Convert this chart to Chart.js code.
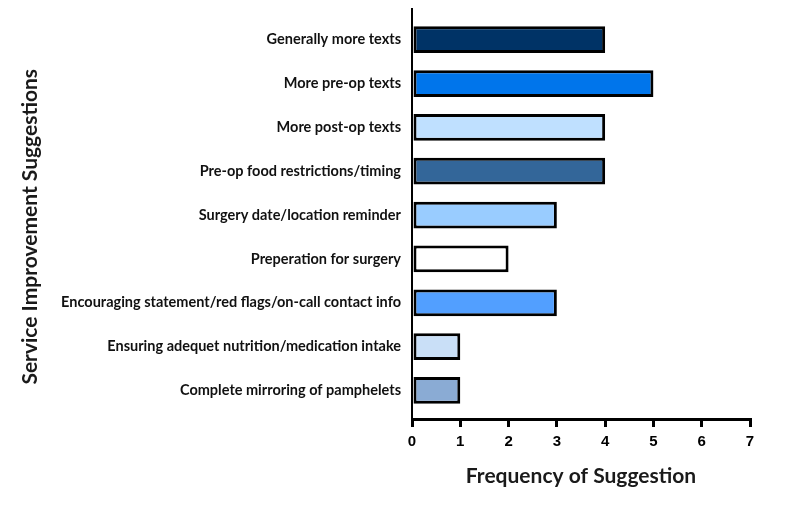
<!DOCTYPE html>
<html>
<head>
<meta charset="utf-8">
<script src="https://cdn.jsdelivr.net/npm/chart.js@4.4.1/dist/chart.umd.min.js"></script>
<style>
  html, body { margin: 0; padding: 0; background: #ffffff; }
  #wrap { width: 800px; height: 505px; }
</style>
</head>
<body>
<div id="wrap"><canvas id="c" width="800" height="505"></canvas></div>
<script>
const categories = [
  "Generally more texts",
  "More pre-op texts",
  "More post-op texts",
  "Pre-op food restrictions/timing",
  "Surgery date/location reminder",
  "Preperation for surgery",
  "Encouraging statement/red flags/on-call contact info",
  "Ensuring adequet nutrition/medication intake",
  "Complete mirroring of pamphelets"
];
const frequencies = [4, 5, 4, 4, 3, 2, 3, 1, 1];
const barColors = ["#003366", "#0075EB", "#BFE0FF", "#336699", "#99CCFF", "#FFFFFF", "#529FFF", "#C9DFF7", "#8AABD4"];
const xTicks = [0, 1, 2, 3, 4, 5, 6, 7];
const xTitle = "Frequency of Suggestion";
const yTitle = "Service Improvement Suggestions";

const points = frequencies.map((v, i) => ({ x: v, y: i }));

new Chart(document.getElementById('c'), {
  type: 'bar',
  data: {
    datasets: [{
      data: points,
      backgroundColor: barColors,
      borderColor: '#000000',
      borderWidth: 3,
      borderSkipped: false,
      barPercentage: 0.61,
      categoryPercentage: 1.0
    }]
  },
  options: {
    indexAxis: 'y',
    responsive: false,
    animation: false,
    devicePixelRatio: 1,
    layout: { padding: { left: 0, right: 50, top: 9, bottom: 0 } },
    plugins: { legend: { display: false }, tooltip: { enabled: false } },
    scales: {
      x: {
        type: 'linear',
        min: xTicks[0],
        max: xTicks[xTicks.length - 1],
        afterBuildTicks: s => { s.ticks = xTicks.map(v => ({ value: v })); },
        afterFit: s => { s.height = 86; },
        grid: { display: true, drawOnChartArea: false, drawTicks: true, tickLength: 8, lineWidth: 3, color: '#000000' },
        border: { display: true, color: '#000000', width: 3 },
        ticks: { color: '#000000', padding: 6, font: { family: 'Liberation Sans', size: 15, weight: 'bold' } },
        title: { display: true, text: xTitle, color: '#1a1a1a', font: { family: 'Lato', size: 21, weight: 'bold' }, padding: { top: 0, bottom: 16 } }
      },
      y: {
        type: 'linear',
        reverse: true,
        offset: false,
        bounds: 'data',
        min: -0.7,
        max: 8.65,
        afterBuildTicks: s => { s.ticks = categories.map((c, i) => ({ value: i })); },
        afterFit: s => { s.width = 412; s.paddingTop = 0; s.paddingBottom = 0; },
        grid: { display: false, drawTicks: false, offset: false },
        border: { display: true, color: '#000000', width: 2 },
        ticks: {
          autoSkip: false,
          padding: 11,
          color: '#111111',
          font: { family: 'Lato', size: 14.5, weight: 'bold' },
          callback: v => categories[v]
        },
        title: { display: true, text: yTitle + '\u00A0\u00A0\u00A0\u00A0\u00A0', color: '#1a1a1a', font: { family: 'Lato', size: 21, weight: 'bold' }, padding: { top: 18, bottom: 0 } }
      }
    }
  }
});
</script>
</body>
</html>
